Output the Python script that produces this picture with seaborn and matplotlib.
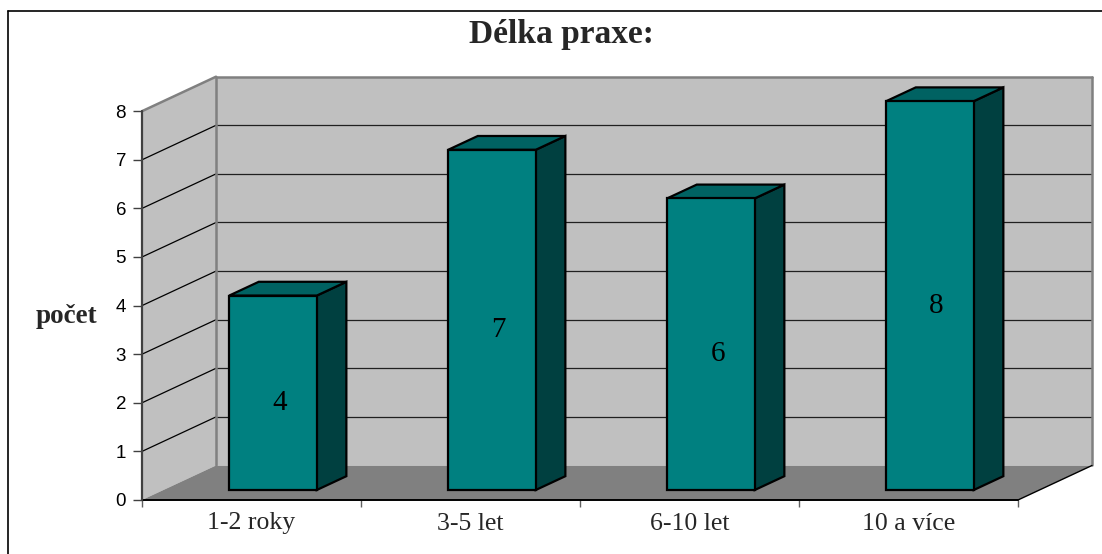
import matplotlib
matplotlib.use("Agg")
import matplotlib.pyplot as plt
from matplotlib.patches import Polygon
from matplotlib.lines import Line2D
import seaborn as sns
import pandas as pd

# Data
categories = ["1-2 roky", "3-5 let", "6-10 let", "10 a více"]
counts = [4, 7, 6, 8]
y_ticks = [0, 1, 2, 3, 4, 5, 6, 7, 8]
title = "Délka praxe:"
y_label = "počet"

# Pseudo-3D geometry (depth vector in data units)
DX, DY = 0.338, 0.71
Z0, ZD = 0.29, 0.40          # bar front depth and bar thickness (fraction of depth)
BAR_W = 0.4
YMAX = 8

FRONT = "#008080"
SIDE = "#004040"
TOP = "#006262"
WALL = "#C0C0C0"
FLOOR = "#808080"
EDGE_GREY = "#808080"

sns.set_style("white")
plt.rcParams["font.family"] = ["Liberation Sans", "DejaVu Sans"]

W, H = 1102, 554
fig = plt.figure(figsize=(W / 100, H / 100), dpi=100)
ax = fig.add_axes([142 / W, 54 / H, 950 / W, 8.75 * 48.6 / H])

df = pd.DataFrame({"kategorie": categories, "pocet": counts})

x0, x1 = -0.5, len(categories) - 0.5

# walls and floor
ax.add_patch(Polygon([(x0, 0), (x0 + DX, DY), (x0 + DX, YMAX + DY), (x0, YMAX)],
                     closed=True, facecolor=WALL, edgecolor="none", zorder=0))
ax.add_patch(Polygon([(x0 + DX, DY), (x1 + DX, DY), (x1 + DX, YMAX + DY), (x0 + DX, YMAX + DY)],
                     closed=True, facecolor=WALL, edgecolor="none", zorder=0))
ax.add_patch(Polygon([(x0, 0), (x1, 0), (x1 + DX, DY), (x0 + DX, DY)],
                     closed=True, facecolor=FLOOR, edgecolor="none", zorder=1))

# gridlines on side and back walls
for k in y_ticks[1:-1]:
    ax.plot([x0, x0 + DX], [k, k + DY], color="black", lw=0.9, zorder=1, clip_on=False)
    ax.plot([x0 + DX, x1 + DX], [k + DY, k + DY], color="#202020", lw=0.9, zorder=1, clip_on=False)

# wall outlines
ax.plot([x0, x0 + DX], [YMAX, YMAX + DY], color=EDGE_GREY, lw=1.8, zorder=1, clip_on=False)
ax.plot([x0 + DX, x1 + DX], [YMAX + DY, YMAX + DY], color=EDGE_GREY, lw=1.8, zorder=1, clip_on=False)
ax.plot([x0 + DX, x0 + DX], [DY, YMAX + DY], color=EDGE_GREY, lw=1.8, zorder=1, clip_on=False)
ax.plot([x1 + DX, x1 + DX], [DY, YMAX + DY], color=EDGE_GREY, lw=1.8, zorder=1, clip_on=False)

# floor edges and front axis
ax.plot([x1, x1 + DX], [0, DY], color="black", lw=1.0, zorder=2, clip_on=False)
ax.plot([x0, x1], [0, 0], color="black", lw=1.4, zorder=2, clip_on=False)
ax.plot([x0, x0], [0, YMAX], color="#404040", lw=1.6, zorder=2, clip_on=False)

# bars (front faces)
sns.barplot(data=df, x="kategorie", y="pocet", width=BAR_W, color=FRONT, saturation=1,
            edgecolor="black", linewidth=1.6, ax=ax, zorder=4)

for patch, v in zip(ax.patches[-len(counts):], counts):
    patch.set_x(patch.get_x() + Z0 * DX)
    patch.set_y(Z0 * DY)
    patch.set_height(v)
    a = patch.get_x()
    b = a + patch.get_width()
    y0 = Z0 * DY
    y1 = y0 + v
    ddx, ddy = ZD * DX, ZD * DY
    ax.add_patch(Polygon([(b, y0), (b + ddx, y0 + ddy), (b + ddx, y1 + ddy), (b, y1)],
                         closed=True, facecolor=SIDE, edgecolor="black", lw=1.6, zorder=3))
    ax.add_patch(Polygon([(a, y1), (b, y1), (b + ddx, y1 + ddy), (a + ddx, y1 + ddy)],
                         closed=True, facecolor=TOP, edgecolor="black", lw=1.6, zorder=3))
    ax.text((a + b) / 2 + 0.03, v / 2, f"{v}", ha="center", va="center",
            family="Liberation Serif", fontsize=21, color="black", zorder=5)

ax.set_xlim(x0, x1 + DX)
ax.set_ylim(0, 8.75)
for s in ax.spines.values():
    s.set_visible(False)
ax.grid(False)

# y axis ticks
ax.set_yticks(y_ticks)
ax.set_yticklabels([str(t) for t in y_ticks])
ax.tick_params(axis="y", which="major", left=True, direction="out", length=6.5, width=1.0,
               color="#404040", pad=5, labelsize=13.5, labelcolor="black")

# x axis: ticks at category boundaries, labels at centres
ax.set_xticks([x0 + i for i in range(len(categories) + 1)])
ax.set_xticklabels([])
ax.set_xticks(list(range(len(categories))), minor=True)
ax.set_xticklabels(categories, minor=True, family="Liberation Serif", fontsize=18.5)
ax.tick_params(axis="x", which="major", bottom=True, direction="out", length=5, width=1.0,
               color="#606060")
ax.tick_params(axis="x", which="minor", bottom=True, length=0, pad=9)
ax.set_xlabel("")
ax.set_ylabel("")

# title and axis label
fig.text(561 / W, 1 - 43 / H, title, ha="center", va="baseline",
         family="Liberation Serif", fontweight="bold", fontsize=24)
fig.text(66.5 / W, 1 - 323 / H, y_label, ha="center", va="baseline",
         family="Liberation Serif", fontweight="bold", fontsize=19.5)

# chart-area frame
fig.add_artist(Line2D([8 / W, 1.0], [1 - 11 / H, 1 - 11 / H], transform=fig.transFigure,
                      color="black", lw=1.2))
fig.add_artist(Line2D([8 / W, 8 / W], [0.0, 1 - 11 / H], transform=fig.transFigure,
                      color="black", lw=1.2))

fig.savefig("out.png", dpi=100)
